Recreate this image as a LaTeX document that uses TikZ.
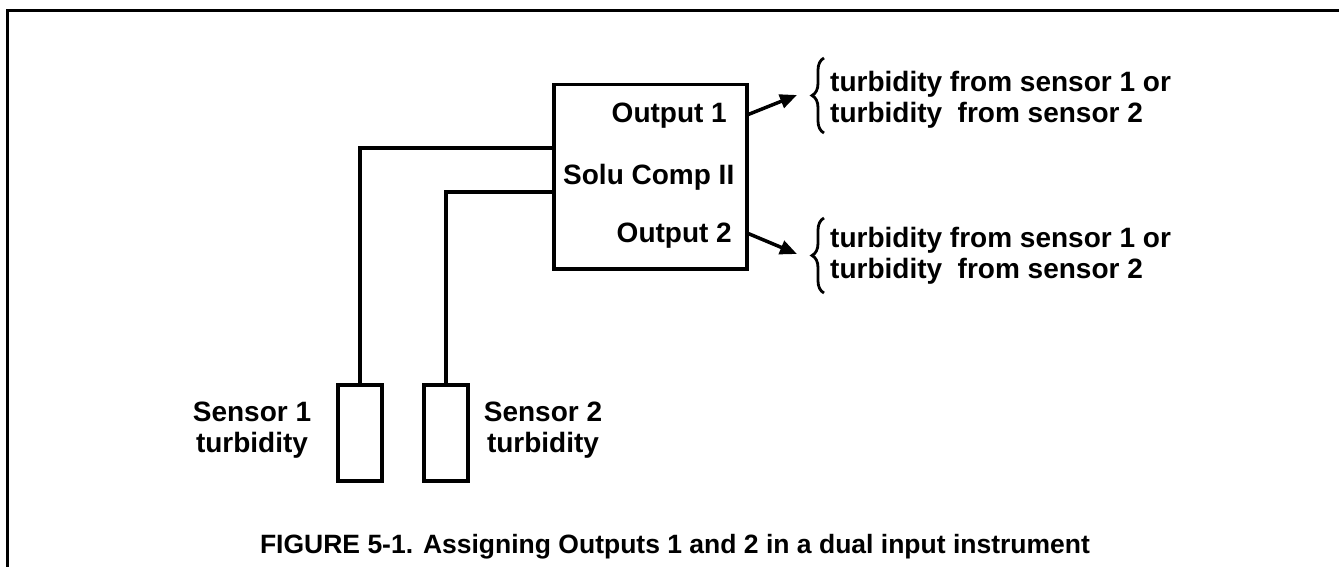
\documentclass[tikz,border=0pt]{standalone}
\usepackage{fontspec}
\setmainfont{Liberation Sans}
\usetikzlibrary{arrows.meta,decorations.pathreplacing}

\tikzset{
  wire/.style={line width=3.5pt},
  lbl/.style={inner sep=0pt,font=\fontsize{28}{31}\selectfont\bfseries},
  unit/.style={draw,wire,inner sep=0pt},
  outarrow/.style={line width=3.5pt,-{Triangle[length=17pt,width=14pt]}},
  curly/.style={line width=2.8pt,decorate,decoration={brace,amplitude=12pt}},
}

\begin{document}
\begin{tikzpicture}[x=1pt,y=-1pt]
\useasboundingbox (0,0) rectangle (1339,567);
\draw[line width=3pt] (7,567) -- (7,11) -- (1339,11);

% instrument
\node[unit,minimum width=193pt,minimum height=184pt,anchor=north west] (solu) at (552,83) {};
\node[lbl,anchor=base east] (out1) at (727,123) {Output 1};
\node[lbl,anchor=base west] (name) at (563,184) {Solu Comp II};
\node[lbl,anchor=base east] (out2) at (732,242) {Output 2};

% sensors
\node[unit,minimum width=44pt,minimum height=96pt,anchor=north] (sens1) at (360,383) {};
\node[unit,minimum width=44pt,minimum height=96pt,anchor=north] (sens2) at (446,383) {};
\node[lbl,align=center,anchor=base] (lab1) at (252,452) {Sensor 1\\turbidity};
\node[lbl,align=center,anchor=base] (lab2) at (543,452) {Sensor 2\\turbidity};

\coordinate (in1) at (552,148);
\coordinate (in2) at (552,192);
\draw[wire] (in1) -| (sens1.north);
\draw[wire] (in2) -| (sens2.north);

% outputs
\node[lbl,align=left,anchor=base west] (dest1) at (830,123) {turbidity from sensor 1 or\\turbidity\ \ from sensor 2};
\node[lbl,align=left,anchor=base west] (dest2) at (830,278) {turbidity from sensor 1 or\\turbidity\ \ from sensor 2};
\draw[curly] (824,133) -- (824,58);
\draw[curly] (824,293) -- (824,218);

\coordinate (o1) at (747,115);
\coordinate (tip1) at (797,95);
\coordinate (o2) at (747,233);
\coordinate (tip2) at (797,254);
\draw[outarrow] (o1) -- (tip1);
\draw[outarrow] (o2) -- (tip2);

\node[lbl,font=\fontsize{26.5}{30}\selectfont\bfseries,anchor=base] (caption) at (675,553) {FIGURE 5-1. Assigning Outputs 1 and 2 in a dual input instrument};
\end{tikzpicture}
\end{document}
